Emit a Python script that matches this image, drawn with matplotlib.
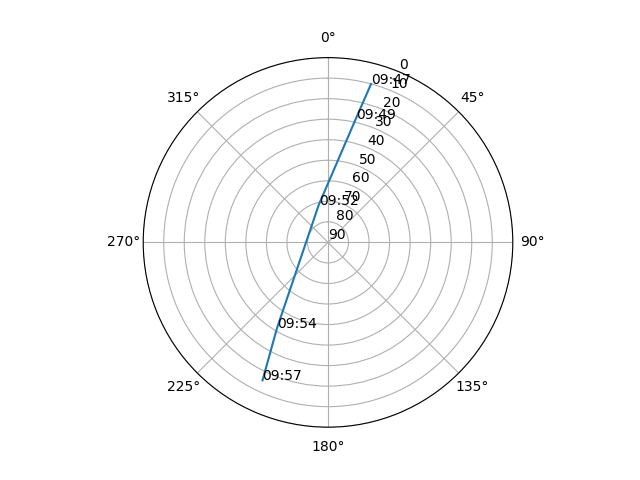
import numpy as np
import matplotlib
matplotlib.use("Agg")
import matplotlib.pyplot as plt

# satellite pass: azimuth (deg) and elevation (deg) per sample
times = ["09:47", "09:49", "09:52", "09:54", "09:57"]
azimuth = [15.2, 12.7, 345.9, 210.8, 205.4]
elevation = [10.1, 28.2, 71.3, 41.6, 15.6]

fig = plt.figure(figsize=(6.4, 4.8), dpi=100)
ax = fig.add_subplot(111, projection="polar")
ax.set_theta_zero_location("N")
ax.set_theta_direction(-1)

theta = np.radians(azimuth)
ax.plot(theta, elevation)
for t, th, el in zip(times, theta, elevation):
    ax.annotate(t, (th, el))

ax.set_yticks(range(0, 91, 10))
ax.set_ylim(90, 0)

fig.savefig("out.png")
